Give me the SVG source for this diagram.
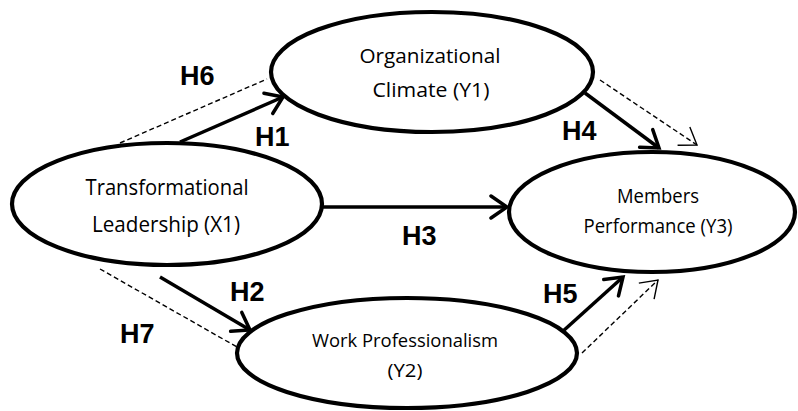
<svg xmlns="http://www.w3.org/2000/svg" width="798" height="411" viewBox="0 0 798 411">
<defs>
<style>
.node ellipse{fill:#fff;stroke:#000;stroke-width:4.2}
.node text{font-family:"Open Sans","Liberation Sans",sans-serif;font-size:20px;fill:#000;text-anchor:middle}
#node-x1 text{font-size:21px}
#node-y1 text{font-size:20.5px}
#node-y3 text{font-size:19.5px}
#node-y2 text{font-size:18.5px}
.lbl{font-family:"Liberation Sans",Arial,sans-serif;font-weight:bold;font-size:27px;fill:#000}
.solid{stroke:#000;stroke-width:3.5;fill:none;marker-end:url(#ah)}
.dash{stroke:#000;stroke-width:1.4;fill:none;stroke-dasharray:5 3}
.dasharr{marker-end:url(#ahd)}
</style>
<marker id="ah" markerUnits="userSpaceOnUse" viewBox="0 0 22 24" refX="19" refY="12" markerWidth="22" markerHeight="24" orient="auto" overflow="visible">
<path d="M3,1 L19,12 L3,23" fill="none" stroke="#000" stroke-width="3.5" stroke-linecap="round" stroke-linejoin="miter"/>
</marker>
<marker id="ahd" markerUnits="userSpaceOnUse" viewBox="0 0 22 24" refX="19" refY="12" markerWidth="22" markerHeight="24" orient="auto" overflow="visible">
<path d="M3,1 L19,12 L3,23" fill="none" stroke="#000" stroke-width="1.4"/>
</marker>
</defs>
<rect width="798" height="411" fill="#fff"/>
<g id="node-x1" class="node">
<ellipse cx="167" cy="204" rx="155" ry="61"/>
<text x="167" y="195" textLength="163" lengthAdjust="spacingAndGlyphs">Transformational</text>
<text x="166" y="232" textLength="148" lengthAdjust="spacingAndGlyphs">Leadership (X1)</text>
</g>
<g id="node-y1" class="node">
<ellipse cx="432" cy="72" rx="161" ry="60"/>
<text x="430" y="63" textLength="141" lengthAdjust="spacingAndGlyphs">Organizational</text>
<text x="431" y="97" textLength="117" lengthAdjust="spacingAndGlyphs">Climate (Y1)</text>
</g>
<g id="node-y3" class="node">
<ellipse cx="652" cy="212" rx="143" ry="60"/>
<text x="658" y="203" textLength="82" lengthAdjust="spacingAndGlyphs">Members</text>
<text x="658" y="233" textLength="149" lengthAdjust="spacingAndGlyphs">Performance (Y3)</text>
</g>
<g id="node-y2" class="node">
<ellipse cx="407" cy="353" rx="170" ry="55"/>
<text x="405" y="347" textLength="186" lengthAdjust="spacingAndGlyphs">Work Professionalism</text>
<text x="405" y="377" textLength="35" lengthAdjust="spacingAndGlyphs">(Y2)</text>
</g>
<g id="connectors">
<line class="dash" x1="120" y1="143" x2="267" y2="79"/>
<line class="solid" x1="180" y1="142" x2="283" y2="97"/>
<line class="solid" x1="322" y1="207" x2="507" y2="207"/>
<line class="solid" x1="585" y1="93" x2="659" y2="148"/>
<line class="dash dasharr" x1="600" y1="80" x2="697" y2="145"/>
<line class="solid" x1="160" y1="277" x2="250" y2="330"/>
<line class="dash" x1="100" y1="269" x2="237" y2="347"/>
<line class="solid" x1="562" y1="332" x2="623" y2="277"/>
<line class="dash dasharr" x1="582" y1="353" x2="658" y2="280"/>
</g>
<g id="labels">
<text class="lbl" x="180" y="85">H6</text>
<text class="lbl" x="255" y="146">H1</text>
<text class="lbl" x="562" y="140">H4</text>
<text class="lbl" x="402" y="245">H3</text>
<text class="lbl" x="230" y="301">H2</text>
<text class="lbl" x="120" y="343">H7</text>
<text class="lbl" x="543" y="303">H5</text>
</g>
</svg>
